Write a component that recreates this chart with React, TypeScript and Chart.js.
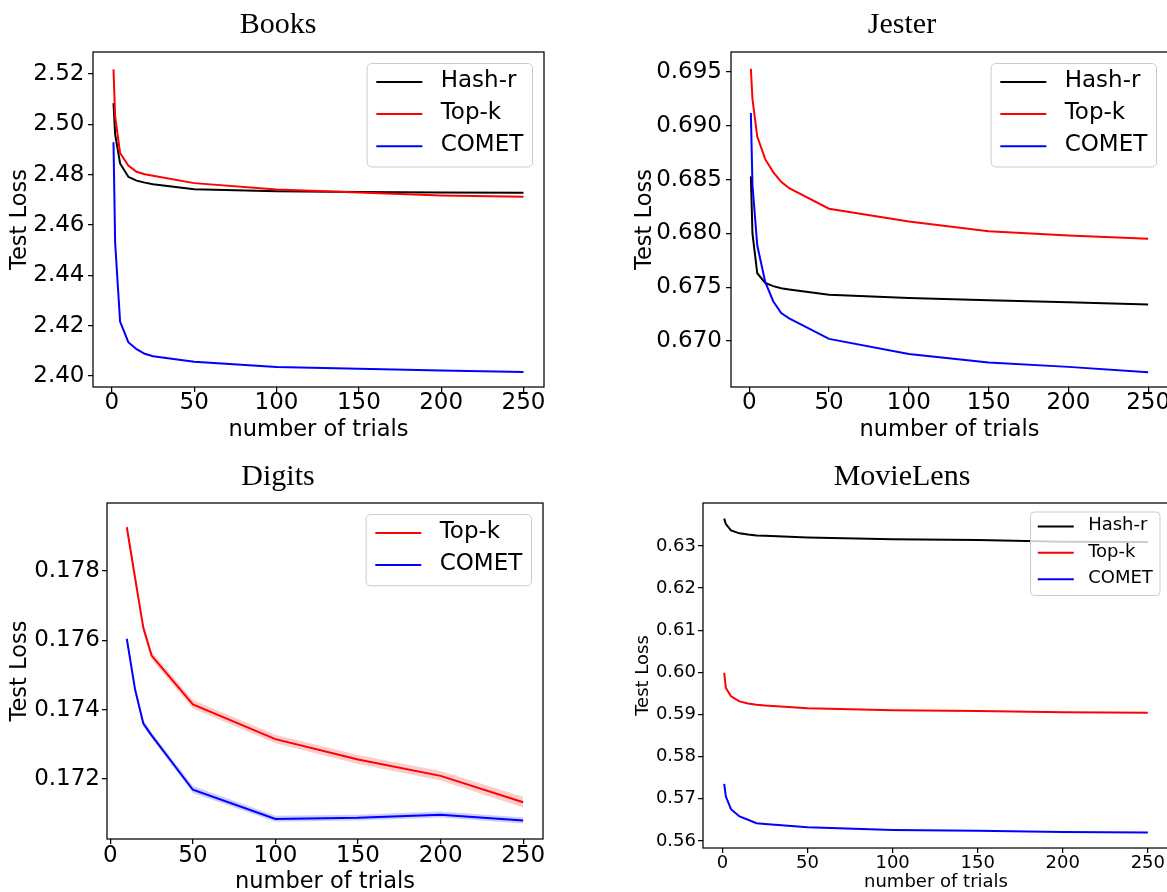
import React, { useEffect, useRef } from 'react';
import { Chart, registerables } from 'chart.js';

Chart.register(...registerables);

// ---------------- data ----------------
const trials = [1, 2, 5, 10, 15, 20, 25, 50, 100, 150, 200, 250];
const digitsTrials = [10, 15, 20, 25, 50, 100, 150, 200, 250];

const booksHash = [2.5084, 2.496, 2.4844, 2.4791, 2.4776, 2.4768, 2.4762, 2.4742, 2.4734, 2.4731, 2.4729, 2.4728];
const booksTopk = [2.5218, 2.503, 2.4886, 2.4836, 2.4811, 2.4801, 2.4795, 2.4766, 2.4741, 2.4729, 2.4717, 2.4712];
const booksComet = [2.4928, 2.4528, 2.4216, 2.4134, 2.4106, 2.4088, 2.4078, 2.4056, 2.4035, 2.4029, 2.4022, 2.4016];

const jesterHash = [0.6853, 0.68, 0.6763, 0.6754, 0.6751, 0.6749, 0.6748, 0.6743, 0.674, 0.6738, 0.6736, 0.6734];
const jesterTopk = [0.6953, 0.6925, 0.689, 0.6869, 0.6857, 0.6848, 0.6842, 0.6823, 0.6811, 0.6802, 0.6798, 0.6795];
const jesterComet = [0.6912, 0.6845, 0.6789, 0.6755, 0.6737, 0.6726, 0.6721, 0.6702, 0.6688, 0.668, 0.6676, 0.6671];

const digitsTopk = [0.17926, 0.1778, 0.17636, 0.17556, 0.17415, 0.17315, 0.17256, 0.17209, 0.17133];
const digitsTopkLow = [0.17912, 0.17766, 0.17624, 0.17545, 0.17403, 0.17303, 0.17243, 0.17196, 0.17118];
const digitsTopkHigh = [0.17942, 0.17794, 0.17648, 0.17567, 0.17428, 0.17328, 0.17269, 0.17223, 0.17149];
const digitsComet = [0.17604, 0.17458, 0.1736, 0.17326, 0.17169, 0.17085, 0.17088, 0.17097, 0.1708];
const digitsCometLow = [0.17595, 0.1745, 0.17352, 0.17318, 0.1716, 0.17077, 0.1708, 0.17089, 0.17072];
const digitsCometHigh = [0.17617, 0.17468, 0.1737, 0.17335, 0.1718, 0.17094, 0.17097, 0.17106, 0.17089];

const mlHash = [0.6365, 0.6352, 0.6337, 0.633, 0.6327, 0.6325, 0.6324, 0.632, 0.6316, 0.6314, 0.631, 0.63095];
const mlTopk = [0.5999, 0.5963, 0.5943, 0.5931, 0.5926, 0.5923, 0.5921, 0.5915, 0.591, 0.5908, 0.5905, 0.5904];
const mlComet = [0.5735, 0.5705, 0.5675, 0.5658, 0.565, 0.5642, 0.564, 0.5632, 0.5626, 0.5624, 0.5621, 0.562];

const xTickValues = [0, 50, 100, 150, 200, 250];
const booksYTicks = [2.4, 2.42, 2.44, 2.46, 2.48, 2.5, 2.52];
const jesterYTicks = [0.67, 0.675, 0.68, 0.685, 0.69, 0.695];
const digitsYTicks = [0.172, 0.174, 0.176, 0.178];
const mlYTicks = [0.56, 0.57, 0.58, 0.59, 0.6, 0.61, 0.62, 0.63];

// ---------------- layout / styling ----------------
const SANS = '"DejaVu Sans", sans-serif';
const SERIF = '"Liberation Serif", "Times New Roman", serif';

type Series = { label: string; color: string; data: number[] };
type Band = { color: string; low: number[]; high: number[] };
type Spec = {
  title: string;
  x: number[];
  series: Series[];
  bands?: Band[];
  xMin: number; xMax: number; yMin: number; yMax: number;
  yTicks: number[]; yDecimals: number;
  box: { left: number; top: number; width: number; height: number };
  pad: { left: number; right: number; top: number; bottom: number };
  yWidth: number; xHeight: number;
  titlePad: { top: number; bottom: number };
  tickFont: number; labelFont: number; legendFont: number; rowFactor: number;
  yTitlePad: number; xTitlePad: number; xTickPad: number; yTickPad: number;
};

const framePlugin = {
  id: 'frame',
  afterDatasetsDraw(chart: any) {
    const { ctx, chartArea } = chart;
    ctx.save();
    ctx.strokeStyle = '#000';
    ctx.lineWidth = 1.25;
    ctx.strokeRect(chartArea.left, chartArea.top, chartArea.right - chartArea.left, chartArea.bottom - chartArea.top);
    ctx.restore();
  },
};

const legendPlugin = {
  id: 'innerLegend',
  afterDraw(chart: any, _args: any, opts: any) {
    const fs: number = opts.fontSize;
    const items = chart.data.datasets.filter((d: any) => d.label && !String(d.label).startsWith('_'));
    const ctx: CanvasRenderingContext2D = chart.ctx;
    ctx.save();
    ctx.font = `${fs}px ${SANS}`;
    const maxW = Math.max(...items.map((d: any) => ctx.measureText(d.label).width));
    const bp = 0.4 * fs, hl = 2 * fs, htp = 0.8 * fs, row = opts.rowFactor * fs;
    const w = bp + hl + htp + maxW + bp;
    const h = 0.8 * fs + row * (items.length - 1) + 0.9 * fs;
    const { right, top } = chart.chartArea;
    const x0 = right - 0.5 * fs - w;
    const y0 = top + 0.5 * fs;
    const r = 0.2 * fs;
    ctx.beginPath();
    ctx.moveTo(x0 + r, y0);
    ctx.lineTo(x0 + w - r, y0);
    ctx.arcTo(x0 + w, y0, x0 + w, y0 + r, r);
    ctx.lineTo(x0 + w, y0 + h - r);
    ctx.arcTo(x0 + w, y0 + h, x0 + w - r, y0 + h, r);
    ctx.lineTo(x0 + r, y0 + h);
    ctx.arcTo(x0, y0 + h, x0, y0 + h - r, r);
    ctx.lineTo(x0, y0 + r);
    ctx.arcTo(x0, y0, x0 + r, y0, r);
    ctx.closePath();
    ctx.fillStyle = 'rgba(255,255,255,0.8)';
    ctx.fill();
    ctx.strokeStyle = '#cccccc';
    ctx.lineWidth = 1;
    ctx.stroke();
    items.forEach((d: any, i: number) => {
      const cy = y0 + 0.8 * fs + i * row;
      ctx.beginPath();
      ctx.moveTo(x0 + bp, cy);
      ctx.lineTo(x0 + bp + hl, cy);
      ctx.strokeStyle = d.borderColor;
      ctx.lineWidth = 2;
      ctx.stroke();
      ctx.fillStyle = '#000';
      ctx.textBaseline = 'middle';
      ctx.textAlign = 'left';
      ctx.fillText(d.label, x0 + bp + hl + htp, cy - 1);
    });
    ctx.restore();
  },
};

function buildConfig(s: Spec): any {
  const datasets: any[] = s.series.map((ser, i) => ({
    label: ser.label,
    data: s.x.map((xv, j) => ({ x: xv, y: ser.data[j] })),
    borderColor: ser.color,
    backgroundColor: ser.color,
    borderWidth: 2,
    pointRadius: 0,
    pointHoverRadius: 0,
    fill: false,
    tension: 0,
    order: s.series.length - i,
  }));
  (s.bands || []).forEach((b) => {
    datasets.push({
      label: '_low',
      data: s.x.map((xv, j) => ({ x: xv, y: b.low[j] })),
      borderColor: 'rgba(0,0,0,0)',
      borderWidth: 0,
      pointRadius: 0,
      fill: false,
      order: 50,
    });
    datasets.push({
      label: '_high',
      data: s.x.map((xv, j) => ({ x: xv, y: b.high[j] })),
      borderColor: 'rgba(0,0,0,0)',
      backgroundColor: b.color,
      borderWidth: 0,
      pointRadius: 0,
      fill: '-1',
      order: 50,
    });
  });

  const tickGrid = {
    display: true,
    drawOnChartArea: false,
    drawTicks: true,
    tickLength: 5,
    color: '#000',
    lineWidth: 1.25,
  };

  return {
    type: 'line',
    data: { datasets },
    plugins: [framePlugin, legendPlugin],
    options: {
      animation: false,
      responsive: false,
      devicePixelRatio: 1,
      events: [],
      layout: { padding: s.pad, autoPadding: false },
      plugins: {
        legend: { display: false },
        tooltip: { enabled: false },
        title: {
          display: true,
          text: s.title,
          color: '#000',
          font: { family: SERIF, size: 30, weight: 'normal', lineHeight: 1.2 },
          padding: s.titlePad,
        },
        innerLegend: { fontSize: s.legendFont, rowFactor: s.rowFactor },
      },
      scales: {
        x: {
          type: 'linear',
          bounds: 'data',
          min: s.xMin,
          max: s.xMax,
          afterBuildTicks: (axis: any) => {
            axis.ticks = xTickValues.map((v) => ({ value: v }));
          },
          afterFit: (axis: any) => {
            axis.height = s.xHeight;
          },
          grid: tickGrid,
          border: { display: false },
          ticks: {
            color: '#000',
            font: { family: SANS, size: s.tickFont, lineHeight: 1 },
            padding: s.xTickPad,
            maxRotation: 0,
            autoSkip: false,
            callback: (v: any) => String(v),
          },
          title: {
            display: true,
            text: 'number of trials',
            color: '#000',
            font: { family: SANS, size: s.labelFont, lineHeight: 1.2 },
            padding: { top: 0, bottom: s.xTitlePad },
          },
        },
        y: {
          type: 'linear',
          bounds: 'data',
          min: s.yMin,
          max: s.yMax,
          afterBuildTicks: (axis: any) => {
            axis.ticks = s.yTicks.map((v) => ({ value: v }));
          },
          afterFit: (axis: any) => {
            axis.width = s.yWidth;
          },
          grid: tickGrid,
          border: { display: false },
          ticks: {
            color: '#000',
            font: { family: SANS, size: s.tickFont, lineHeight: 1 },
            padding: s.yTickPad,
            autoSkip: false,
            callback: (v: any) => Number(v).toFixed(s.yDecimals),
          },
          title: {
            display: true,
            text: 'Test Loss',
            color: '#000',
            font: { family: SANS, size: s.labelFont, lineHeight: 1.2 },
            padding: { top: s.yTitlePad, bottom: 0 },
          },
        },
      },
    },
  };
}

const specs: Spec[] = [
  {
    title: 'Books',
    x: trials,
    series: [
      { label: 'Hash-r', color: '#000000', data: booksHash },
      { label: 'Top-k', color: '#ff0000', data: booksTopk },
      { label: 'COMET', color: '#0000ff', data: booksComet },
    ],
    xMin: -11.45, xMax: 262.45, yMin: 2.3956, yMax: 2.5287,
    yTicks: booksYTicks, yDecimals: 2,
    box: { left: 0, top: 0, width: 556, height: 446 },
    pad: { left: 12, right: 12, top: 0, bottom: 0 },
    yWidth: 81, xHeight: 59,
    titlePad: { top: 6.9, bottom: 9.1 },
    tickFont: 23, labelFont: 22.5, legendFont: 23, rowFactor: 1.4,
    yTitlePad: -5.1, xTitlePad: 2.5, xTickPad: 0, yTickPad: 3.5,
  },
  {
    title: 'Jester',
    x: trials,
    series: [
      { label: 'Hash-r', color: '#000000', data: jesterHash },
      { label: 'Top-k', color: '#ff0000', data: jesterTopk },
      { label: 'COMET', color: '#0000ff', data: jesterComet },
    ],
    xMin: -11.45, xMax: 262.45, yMin: 0.66573, yMax: 0.69686,
    yTicks: jesterYTicks, yDecimals: 3,
    box: { left: 600, top: 0, width: 600, height: 446 },
    pad: { left: 36, right: 32, top: 0, bottom: 0 },
    yWidth: 95, xHeight: 59,
    titlePad: { top: 6.9, bottom: 9.1 },
    tickFont: 23, labelFont: 22.5, legendFont: 23, rowFactor: 1.4,
    yTitlePad: -3.9, xTitlePad: 2.5, xTickPad: 0, yTickPad: 4,
  },
  {
    title: 'Digits',
    x: digitsTrials,
    series: [
      { label: 'Top-k', color: '#ff0000', data: digitsTopk },
      { label: 'COMET', color: '#0000ff', data: digitsComet },
    ],
    bands: [
      { color: 'rgba(255,0,0,0.2)', low: digitsTopkLow, high: digitsTopkHigh },
      { color: 'rgba(0,0,255,0.2)', low: digitsCometLow, high: digitsCometHigh },
    ],
    xMin: -2, xMax: 262, yMin: 0.17027, yMax: 0.17996,
    yTicks: digitsYTicks, yDecimals: 3,
    box: { left: 0, top: 446, width: 556, height: 460 },
    pad: { left: 13, right: 13, top: 0, bottom: 0 },
    yWidth: 94, xHeight: 67,
    titlePad: { top: 12.9, bottom: 8.1 },
    tickFont: 23, labelFont: 22.5, legendFont: 23, rowFactor: 1.4,
    yTitlePad: -6.1, xTitlePad: 10.5, xTickPad: 1, yTickPad: 2,
  },
  {
    title: 'MovieLens',
    x: trials,
    series: [
      { label: 'Hash-r', color: '#000000', data: mlHash },
      { label: 'Top-k', color: '#ff0000', data: mlTopk },
      { label: 'COMET', color: '#0000ff', data: mlComet },
    ],
    xMin: -11.45, xMax: 262.45, yMin: 0.5583, yMax: 0.6402,
    yTicks: mlYTicks, yDecimals: 2,
    box: { left: 600, top: 446, width: 600, height: 460 },
    pad: { left: 35, right: 31, top: 0, bottom: 0 },
    yWidth: 68, xHeight: 58,
    titlePad: { top: 12.9, bottom: 8.1 },
    tickFont: 18, labelFont: 18, legendFont: 18, rowFactor: 1.47,
    yTitlePad: -2, xTitlePad: 13.2, xTickPad: 1, yTickPad: 2,
  },
];

function Panel({ spec }: { spec: Spec }) {
  const ref = useRef<HTMLCanvasElement>(null);
  useEffect(() => {
    if (!ref.current) return;
    const chart = new Chart(ref.current, buildConfig(spec));
    return () => chart.destroy();
  }, [spec]);
  const { left, top, width, height } = spec.box;
  return (
    <canvas
      ref={ref}
      width={width}
      height={height}
      style={{ position: 'absolute', left, top, width, height, display: 'block' }}
    />
  );
}

export default function App() {
  return (
    <div
      style={{
        position: 'absolute',
        left: 0,
        top: 0,
        width: 1167,
        height: 892,
        overflow: 'hidden',
        background: '#ffffff',
      }}
    >
      {specs.map((s) => (
        <Panel key={s.title} spec={s} />
      ))}
    </div>
  );
}
